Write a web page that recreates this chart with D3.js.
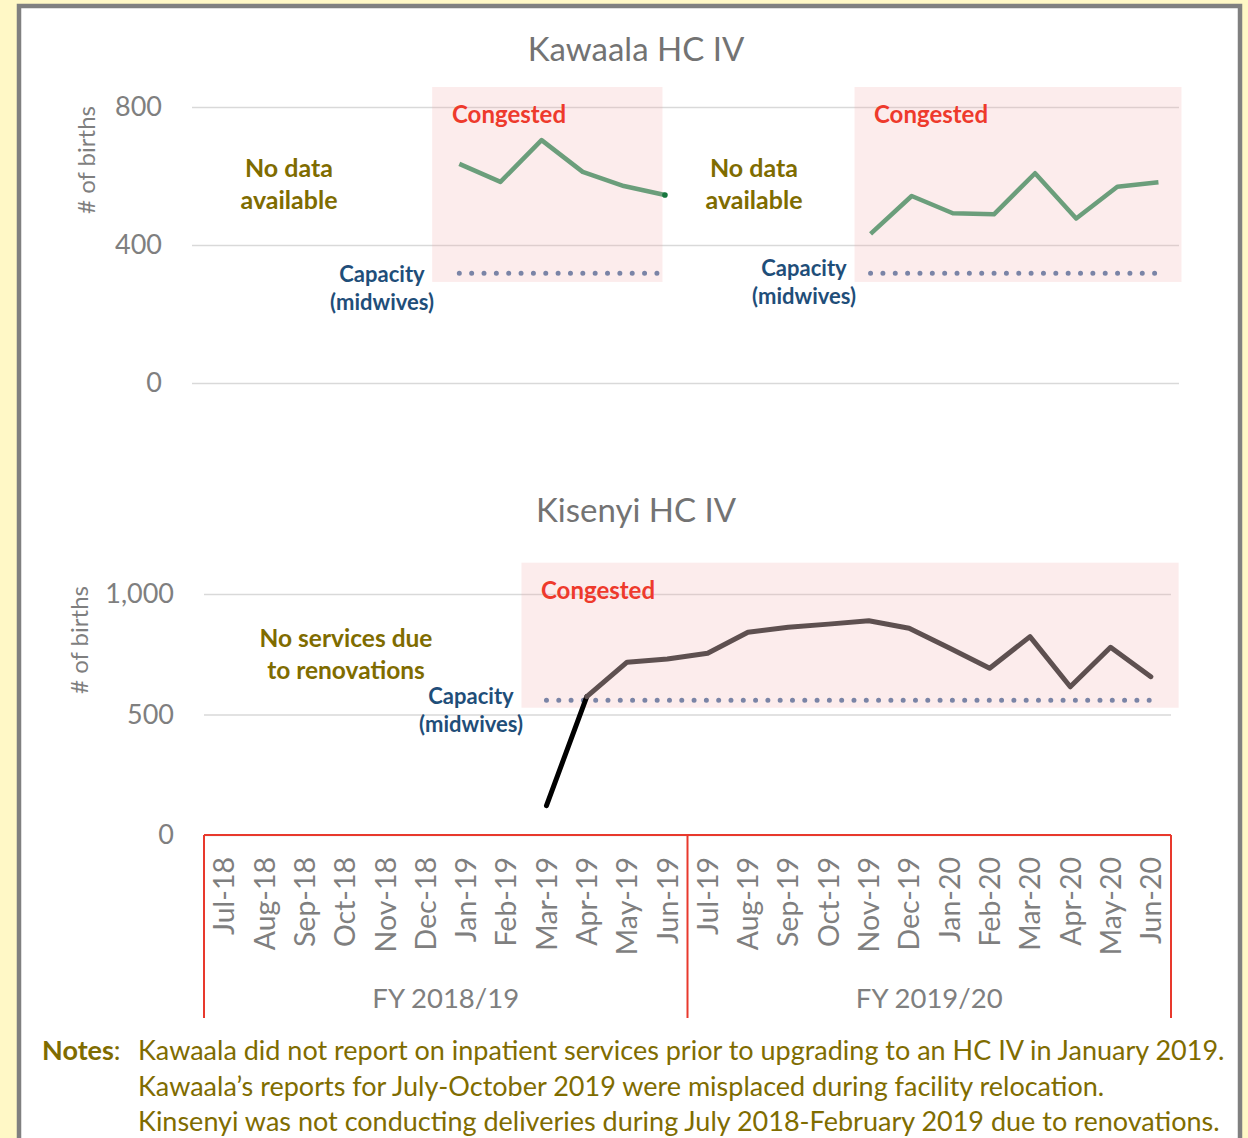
<!DOCTYPE html>
<html>
<head>
<meta charset="utf-8">
<script src="https://cdn.jsdelivr.net/npm/d3@7"></script>
<style>
  body { margin: 0; background: #fff8c6; }
  svg { display: block; font-family: Lato, "Open Sans", sans-serif; }
</style>
</head>
<body>
<div class="chart"></div>
<script>
var months = ["Jul-18", "Aug-18", "Sep-18", "Oct-18", "Nov-18", "Dec-18",
  "Jan-19", "Feb-19", "Mar-19", "Apr-19", "May-19", "Jun-19",
  "Jul-19", "Aug-19", "Sep-19", "Oct-19", "Nov-19", "Dec-19",
  "Jan-20", "Feb-20", "Mar-20", "Apr-20", "May-20", "Jun-20"];
var fiscalYears = ["FY 2018/19", "FY 2019/20"];

// births per month, null = no data
var kawaala = [null, null, null, null, null, null,
  635, 583, 704, 612, 571, 545,
  null, null, null, null, 432, 542,
  492, 489, 608, 477, 569, 582];
var kisenyi = [null, null, null, null, null, null,
  null, null, 122, 574, 717, 730,
  754, 841, 862, 875, 889, 858,
  776, 692, 823, 615, 779, 657];

var kawaalaCapacity = 318;
var kisenyiCapacity = 559;

var kawaalaTicks = [0, 400, 800];
var kisenyiTicks = [0, 500, 1000];

var notes = [
  "Kawaala did not report on inpatient services prior to upgrading to an HC IV in January 2019.",
  "Kawaala\u2019s reports for July-October 2019 were misplaced during facility relocation.",
  "Kinsenyi was not conducting deliveries during July 2018-February 2019 due to renovations."
];

var svgWidth = 1248;
var svgHeight = 1138;

var grey = "#7f7f7f";
var olive = "#7f6c00";
var red = "#ee3a2c";
var blue = "#1f4e79";

var svg = d3.select(".chart")
  .append("svg")
  .attr("width", svgWidth)
  .attr("height", svgHeight);

// frame
svg.append("rect")
  .attr("x", 19).attr("y", 6)
  .attr("width", 1221).attr("height", 1160)
  .attr("fill", "white")
  .attr("stroke", "#808080")
  .attr("stroke-width", 4.5);

var pink = "rgba(240,170,170,0.22)";

// ---------- Kawaala panel ----------
var xTop = d3.scaleBand().domain(months).range([192, 1179]);
var yTop = d3.scaleLinear().domain([0, 800]).range([383, 107]);
var stepTop = xTop.bandwidth();
function cxTop(i) { return xTop(months[0]) + stepTop * (i + 0.5); }

var topG = svg.append("g");

topG.append("g")
  .attr("transform", "translate(192,0)")
  .call(d3.axisLeft(yTop).tickValues(kawaalaTicks).tickSize(-987).tickPadding(30))
  .call(function(g) {
    g.select(".domain").remove();
    g.selectAll("line").attr("stroke", "#d9d9d9").attr("stroke-width", 1.5);
    g.selectAll("text").attr("fill", grey).style("font-size", "27px").style("font-family", "Lato");
  });

// congested zones
[[5.34, 10.94], [15.61, 23.56]].forEach(function(z) {
  topG.append("rect")
    .attr("x", cxTop(z[0]))
    .attr("width", cxTop(z[1]) - cxTop(z[0]))
    .attr("y", yTop(858))
    .attr("height", yTop(293) - yTop(858))
    .attr("fill", pink);
});

// capacity dots
[[6, 11], [16, 23]].forEach(function(s) {
  topG.append("line")
    .attr("x1", cxTop(s[0])).attr("x2", cxTop(s[1]) + 2)
    .attr("y1", yTop(kawaalaCapacity)).attr("y2", yTop(kawaalaCapacity))
    .attr("stroke", "#7a84a6")
    .attr("stroke-width", 5)
    .attr("stroke-linecap", "round")
    .attr("stroke-dasharray", "0 12.35");
});

var lineTop = d3.line()
  .defined(function(d) { return d != null; })
  .x(function(d, i) { return cxTop(i); })
  .y(function(d) { return yTop(d); });

topG.append("path")
  .datum(kawaala)
  .attr("d", lineTop)
  .attr("fill", "none")
  .attr("stroke", "#6b9e7b")
  .attr("stroke-width", 4.5)
  .attr("stroke-linejoin", "round");

topG.append("circle")
  .attr("cx", cxTop(11)).attr("cy", yTop(kawaala[11]))
  .attr("r", 2.8)
  .attr("fill", "#18773f");

topG.append("text")
  .attr("x", 636).attr("y", 61)
  .attr("text-anchor", "middle")
  .attr("fill", "#737373")
  .style("font-size", "33px")
  .text("Kawaala HC IV");

topG.append("text")
  .attr("transform", "translate(95,160) rotate(-90)")
  .attr("text-anchor", "middle")
  .attr("fill", grey)
  .style("font-size", "24px")
  .text("# of births");

// ---------- Kisenyi panel ----------
var xBot = d3.scaleBand().domain(months).range([204, 1171]);
var yBot = d3.scaleLinear().domain([0, 1000]).range([835, 594]);
var stepBot = xBot.bandwidth();
function cxBot(i) { return xBot(months[0]) + stepBot * (i + 0.5); }

var bot = svg.append("g");

bot.append("g")
  .attr("transform", "translate(204,0)")
  .call(d3.axisLeft(yBot).tickValues(kisenyiTicks).tickSize(-967).tickPadding(30).tickFormat(d3.format(",")))
  .call(function(g) {
    g.select(".domain").remove();
    g.selectAll("line").attr("stroke", "#d9d9d9").attr("stroke-width", 1.5);
    g.selectAll("text").attr("fill", grey).style("font-size", "27px").style("font-family", "Lato");
  });

bot.append("rect")
  .attr("x", cxBot(7.38))
  .attr("width", cxBot(23.69) - cxBot(7.38))
  .attr("y", yBot(1130))
  .attr("height", yBot(528) - yBot(1130))
  .attr("fill", pink);

bot.append("line")
  .attr("x1", cxBot(8)).attr("x2", cxBot(23) + 2)
  .attr("y1", yBot(kisenyiCapacity)).attr("y2", yBot(kisenyiCapacity))
  .attr("stroke", "#7a84a6")
  .attr("stroke-width", 5)
  .attr("stroke-linecap", "round")
  .attr("stroke-dasharray", "0 12.3");

var lineBot = d3.line()
  .defined(function(d) { return d != null; })
  .x(function(d) { return cxBot(d.i); })
  .y(function(d) { return yBot(d.v); });

var kisenyiPts = kisenyi.map(function(v, i) { return { i: i, v: v }; })
  .filter(function(d) { return d.v != null; });

// first reported month drawn in black
bot.append("path")
  .datum(kisenyiPts.slice(0, 2))
  .attr("d", lineBot)
  .attr("fill", "none")
  .attr("stroke", "black")
  .attr("stroke-width", 5)
  .attr("stroke-linecap", "round");

bot.append("path")
  .datum(kisenyiPts.slice(1))
  .attr("d", lineBot)
  .attr("fill", "none")
  .attr("stroke", "#5e5050")
  .attr("stroke-width", 5)
  .attr("stroke-linejoin", "round")
  .attr("stroke-linecap", "round");

bot.append("text")
  .attr("x", 636).attr("y", 522)
  .attr("text-anchor", "middle")
  .attr("fill", "#737373")
  .style("font-size", "33px")
  .text("Kisenyi HC IV");

bot.append("text")
  .attr("transform", "translate(88,640) rotate(-90)")
  .attr("text-anchor", "middle")
  .attr("fill", grey)
  .style("font-size", "24px")
  .text("# of births");

// x axis: months
var xAxis = bot.append("g")
  .attr("transform", "translate(0,835)")
  .call(d3.axisBottom(xBot).tickSize(0).tickPadding(0));
xAxis.select(".domain").remove();
xAxis.selectAll("text")
  .attr("transform", "translate(0,22) rotate(-90)")
  .attr("text-anchor", "end")
  .attr("x", 0).attr("y", 0).attr("dy", "0.36em")
  .attr("fill", grey)
  .style("font-size", "28.5px")
  .style("font-family", "Lato");

// multi-level category box
var box = bot.append("g")
  .attr("fill", "none")
  .attr("stroke", "#e8392d")
  .attr("stroke-width", 2);
box.append("line").attr("x1", 204).attr("x2", 1171).attr("y1", 835).attr("y2", 835);
[0, 12, 24].forEach(function(i) {
  var x = i === 24 ? xBot.range()[1] : xBot(months[i]);
  box.append("line").attr("x1", x).attr("x2", x).attr("y1", 835).attr("y2", 1018);
});

fiscalYears.forEach(function(fy, k) {
  var x0 = xBot(months[k * 12]);
  var x1 = k === 1 ? xBot.range()[1] : xBot(months[12]);
  bot.append("text")
    .attr("x", (x0 + x1) / 2).attr("y", 1008)
    .attr("text-anchor", "middle")
    .attr("fill", grey)
    .style("font-size", "27.5px")
    .text(fy);
});

// ---------- annotations ----------
function label(x, y, lines, color, size, gap, anchor) {
  var t = svg.append("text")
    .attr("x", x).attr("y", y)
    .attr("text-anchor", anchor || "middle")
    .attr("fill", color)
    .style("font-size", size + "px")
    .style("font-weight", "bold");
  lines.forEach(function(s, k) {
    t.append("tspan").attr("x", x).attr("dy", k === 0 ? 0 : gap).text(s);
  });
}

label(452, 123, ["Congested"], red, 24, 0, "start");
label(874, 123, ["Congested"], red, 24, 0, "start");
label(541, 599, ["Congested"], red, 24, 0, "start");

label(289, 177, ["No data", "available"], olive, 25, 32);
label(754, 177, ["No data", "available"], olive, 25, 32);
label(346, 647, ["No services due", "to renovations"], olive, 24.5, 32);

label(382, 282, ["Capacity", "(midwives)"], blue, 22, 28);
label(804, 276, ["Capacity", "(midwives)"], blue, 22, 28);
label(471, 704, ["Capacity", "(midwives)"], blue, 22, 28);

// ---------- notes ----------
svg.append("text")
  .attr("x", 42).attr("y", 1060)
  .attr("fill", olive)
  .style("font-size", "27px")
  .call(function(t) {
    t.append("tspan").style("font-weight", "bold").text("Notes");
    t.append("tspan").text(":");
  });

notes.forEach(function(n, k) {
  svg.append("text")
    .attr("x", 138).attr("y", 1060 + k * 35.5)
    .attr("fill", olive)
    .style("font-size", "27px")
    .text(n);
});
</script>
</body>
</html>
